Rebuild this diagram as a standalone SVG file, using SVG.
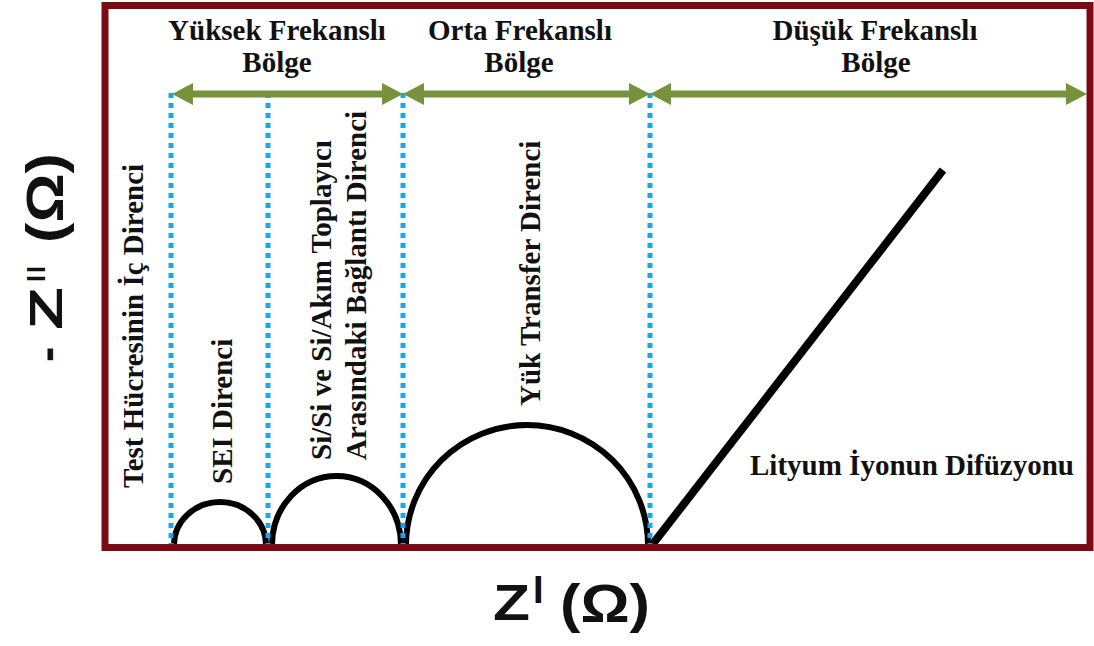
<svg xmlns="http://www.w3.org/2000/svg" width="1094" height="646" viewBox="0 0 1094 646">
  <style>
    .lbl { font-family: "Liberation Serif", "Times New Roman", serif; font-weight: bold; font-size: 29px; fill: #111; }
    .ax { font-family: "Liberation Sans", Arial, sans-serif; font-weight: bold; fill: #111; }
    .arc { fill: none; stroke: #000; stroke-width: 6; }
    .dot { stroke: #1AA6E8; stroke-width: 5; stroke-dasharray: 5 5; fill: none; }
    .grn { stroke: #76923C; stroke-width: 7; fill: none; marker-start: url(#ah); marker-end: url(#ah); }
  </style>
  <defs>
    <marker id="ah" markerUnits="userSpaceOnUse" viewBox="0 -12 22 24" markerWidth="22" markerHeight="24" refX="0" refY="0" orient="auto-start-reverse">
      <path d="M0,-11 L21,0 L0,11 Z" fill="#76923C"/>
    </marker>
  </defs>
  <rect width="1094" height="646" fill="#fff"/>

  <g id="curves">
    <path class="arc" d="M174,545 A46,43 0 0 1 266,545"/>
    <path class="arc" d="M272,545 A64.5,69 0 0 1 401,545"/>
    <path class="arc" d="M406,545 A121,120 0 0 1 648,545"/>
    <line x1="652" y1="545" x2="943" y2="170" stroke="#000" stroke-width="8"/>
  </g>

  <g id="connectors">
    <line class="dot" x1="171" y1="93" x2="171" y2="546"/>
    <line class="dot" x1="268" y1="93" x2="268" y2="546"/>
    <line class="dot" x1="403" y1="93" x2="403" y2="546"/>
    <line class="dot" x1="650" y1="93" x2="650" y2="546"/>
    <line class="grn" x1="193" y1="94" x2="382" y2="94"/>
    <line class="grn" x1="424" y1="94" x2="629" y2="94"/>
    <line class="grn" x1="671" y1="94" x2="1066" y2="94"/>
  </g>

  <g id="frame">
    <rect x="105" y="5.5" width="985" height="542" fill="none" stroke="#7A0A14" stroke-width="7"/>
  </g>

  <g id="region-high">
    <text class="lbl" x="277" y="40" text-anchor="middle">Yüksek Frekanslı</text>
    <text class="lbl" x="277" y="72" text-anchor="middle">Bölge</text>
  </g>
  <g id="region-mid">
    <text class="lbl" x="520" y="40" text-anchor="middle">Orta Frekanslı</text>
    <text class="lbl" x="519" y="72" text-anchor="middle">Bölge</text>
  </g>
  <g id="region-low">
    <text class="lbl" x="875" y="40" text-anchor="middle">Düşük Frekanslı</text>
    <text class="lbl" x="876" y="72" text-anchor="middle">Bölge</text>
  </g>

  <g id="label-test">
    <text class="lbl" transform="translate(143,488) rotate(-90)">Test Hücresinin İç Direnci</text>
  </g>
  <g id="label-sei">
    <text class="lbl" transform="translate(232,484) rotate(-90)">SEI Direnci</text>
  </g>
  <g id="label-sisi">
    <text class="lbl" transform="translate(331,460) rotate(-90)">Si/Si ve Si/Akım Toplayıcı</text>
    <text class="lbl" transform="translate(366,460) rotate(-90)">Arasındaki Bağlantı Direnci</text>
  </g>
  <g id="label-charge">
    <text class="lbl" transform="translate(540,406) rotate(-90)">Yük Transfer Direnci</text>
  </g>
  <g id="label-diff">
    <text class="lbl" x="750" y="475">Lityum İyonun Difüzyonu</text>
  </g>

  <g id="x-axis-label">
    <text class="ax" x="493" y="620" font-size="50" textLength="37" lengthAdjust="spacingAndGlyphs">Z</text>
    <text class="ax" x="533" y="603" font-size="38">I</text>
    <text class="ax" x="560" y="622" font-size="54" textLength="90" lengthAdjust="spacingAndGlyphs">(Ω)</text>
  </g>

  <g id="y-axis-label" transform="translate(62,362) rotate(-90)">
    <text class="ax" x="0" y="0" font-size="46">-</text>
    <text class="ax" x="32" y="0" font-size="46" textLength="43" lengthAdjust="spacingAndGlyphs">Z</text>
    <text class="ax" x="80" y="-17" font-size="25" letter-spacing="2">II</text>
    <text class="ax" x="119" y="1" font-size="52" textLength="90" lengthAdjust="spacingAndGlyphs">(Ω)</text>
  </g>
</svg>
